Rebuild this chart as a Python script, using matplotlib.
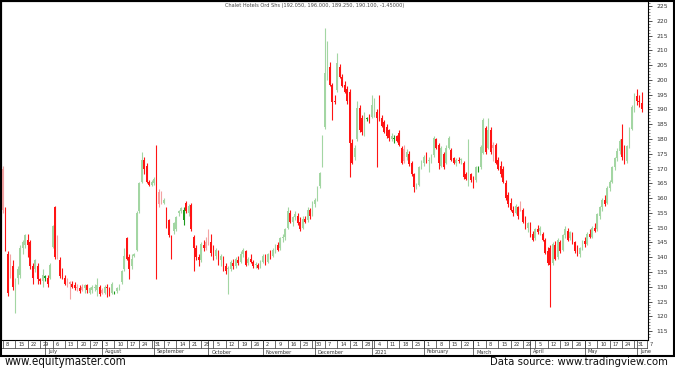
import matplotlib
matplotlib.use("Agg")
import matplotlib.pyplot as plt
from matplotlib import font_manager
import numpy as np
import pandas as pd
from matplotlib.patches import Rectangle

# daily OHLC (Chalet Hotels, Jun 2020 - Jun 2021)
opens = [
    170, 156, 141, 140, 137, 131, 133, 134, 143, 144,
    146, 145, 137, 136, 137, 132.5, 132, 133, 133, 133,
    143.6, 157, 147, 139, 136, 133, 132, 131.5, 131, 130.5,
    130, 129.5,
    130, 129.5, 130.5, 128, 129, 129.5, 129, 130, 129, 128,
    130, 129.5, 128, 128, 128.5, 129.5, 131.5, 136, 146.5, 140, 137,
    140.5, 142.6, 155.5, 165.5, 173, 171, 165.5, 164.5, 165, 176.5,
    162, 162, 158.5, 156.5, 152.5, 147, 149, 149.5, 155, 155.5,
    152.5, 158.5, 155, 157.8, 147, 143, 140, 139, 144,
    145, 147, 145, 142, 140.5, 142, 139, 140,
    137, 136, 136, 138, 137, 139, 138.5, 141, 142, 138,
    139.5, 138.5, 137.5, 137.5, 137, 138.5, 140, 138.5, 141, 140.5,
    142.5, 144, 143, 146.5, 147, 150, 155, 152, 153.5, 154,
    152, 150, 153, 152.5, 156, 154.5, 158, 159.5, 164, 171,
    184, 204.4, 204.4, 198.3, 193, 196.6, 204.4, 201, 198.3, 197,
    196, 178.7, 174, 180, 190.5, 187, 183, 186.8, 187.2, 187.5,
    188, 189, 190, 187, 185.8, 184, 183, 180, 180, 181,
    182, 177, 176.5, 174, 175, 172, 168, 164, 164.5, 171,
    172, 175, 172.5, 173, 174.7, 180, 178, 171, 175, 172,
    177, 176.4, 173.5, 172, 173, 172.8, 172, 168, 167, 168,
    167, 166, 170, 170.6, 175.4, 183.8, 177, 183, 178, 178,
    173, 171, 170, 165.2, 161, 158.5, 156, 155, 157, 158,
    156, 152.5, 150, 151.5, 148, 146.5, 149.5, 149, 148, 146,
    142, 143, 138, 144, 140, 145, 142.5, 147.5, 149, 146.5,
    148, 145, 143, 141, 143, 145.5, 144.5, 148, 147, 150,
    149.5, 154, 157, 159.5, 158.5, 163.5, 165.5, 170.5, 173.5, 176,
    180, 177, 172.5, 177.5, 183.5, 190, 194.5, 193, 192.05,
]
highs = [
    171, 157, 142, 141, 139, 133, 137, 144, 146, 148,
    148, 146, 138, 139.5, 138, 133, 136, 134, 134, 138,
    151, 157.5, 147.5, 140, 136.5, 134, 133, 132, 132, 131.5,
    131, 130.5,
    131, 131, 131, 130, 130.5, 131, 133, 130.5, 129.5, 130.5,
    131, 130, 131.5, 128.5, 130, 131, 135.8, 143, 147, 141, 141,
    141.5, 155.5, 165.5, 175.5, 174, 172, 166, 166, 167, 178,
    163, 162.5, 160, 157, 153, 147.5, 152, 154, 156, 157,
    157, 159, 158, 158.5, 147.5, 144, 141, 145, 146,
    147, 149.5, 148, 144, 143, 142.5, 141, 140.5,
    138, 137, 139, 139.5, 140, 140.5, 142, 143, 142.5, 140,
    141, 139, 138.5, 138, 139, 141, 141, 141.5, 142.5, 143,
    144.5, 145, 147, 148, 150, 157, 156, 154, 155.5, 155,
    153.5, 154, 154, 157, 156.5, 159, 160, 164, 169, 181.5,
    217.6, 213, 206, 199, 195, 209, 205.5, 202, 199.5, 198,
    197, 180, 178, 193, 191.5, 188, 189, 187.5, 188.5, 195,
    194, 190, 195, 188, 186.5, 185, 183.5, 182, 181.5, 181.5,
    183, 177.5, 178, 176.5, 176, 172.5, 168.5, 165, 171, 173,
    174.5, 175.5, 174, 175, 181, 180.5, 178.5, 177.5, 175.5, 178,
    181, 177, 174, 173.5, 174, 173.5, 172.5, 169, 180, 168.5,
    167.5, 171, 171, 178, 187.2, 184.5, 187, 184, 179, 178.5,
    174, 172.5, 171, 166, 162, 160, 157.5, 158, 157.5, 159,
    156.5, 154, 152, 152, 149, 150, 151, 150.5, 148.5, 146.5,
    143.5, 144, 145, 145.5, 146.5, 146, 148, 150.5, 150, 149,
    148.5, 145.5, 144, 143.5, 146, 147, 148.5, 149.5, 150.5, 151.5,
    155, 157.5, 160, 161, 164, 166, 171, 174, 177, 180,
    185, 178, 178, 184, 191.5, 195.5, 197, 195, 196,
]
lows = [
    155, 142, 127, 133, 129, 121, 131, 133, 141, 143,
    140, 136, 131, 135, 131, 131, 130, 132, 130, 132.5,
    143, 139.5, 139.5, 133, 132.5, 130.5, 130, 126, 129.5, 129,
    128.5, 128,
    128.5, 128, 128, 127.5, 128, 128.5, 127, 127, 127.5, 127.5,
    126.5, 127, 127.5, 127.5, 128, 129, 131, 135.5, 139, 132.5, 136,
    140, 142, 155, 165, 168, 165, 164, 164, 164.5, 132.5,
    157, 158, 158, 150, 147, 139.5, 148, 149, 154, 155,
    151, 155, 154, 149, 135.5, 139, 137, 138.5, 142,
    142.5, 144, 140.5, 139, 139.5, 137.5, 137, 135.5,
    134.5, 127.5, 135.5, 136, 136.5, 137.5, 138, 140, 137, 137.5,
    138, 136.5, 136.5, 136, 136.5, 138, 137.5, 138, 139.5, 140,
    141.5, 142, 142.5, 145, 146, 149.5, 151.5, 150.5, 152.5, 151,
    149, 149.5, 151.5, 152, 153, 154, 157, 159, 163.5, 170.5,
    183.5, 200, 198, 186.5, 192, 196, 200.5, 197.5, 195.5, 192,
    167, 171.5, 173, 179.5, 182.5, 181.5, 181, 186, 185.5, 187,
    187.5, 170.6, 186, 184, 182, 180.5, 179.5, 179.5, 178.5, 179,
    177.5, 171.5, 172, 173, 171, 167.5, 162, 163, 164, 170,
    171, 172, 169, 172, 174, 176.5, 170, 170.5, 170, 171.5,
    176.5, 172.5, 171.5, 171, 172, 171.5, 166.5, 166, 164, 165.5,
    163.5, 165.5, 169, 170, 175, 175, 176.5, 175, 172.5, 171.5,
    169.5, 167, 165, 159.5, 157, 155.5, 154, 154.5, 153, 155.5,
    151.5, 149.5, 148.5, 147, 145.5, 146, 148, 147.5, 145.5, 141,
    137.5, 123, 137.5, 139, 139.5, 141.5, 142, 146.5, 145.5, 146,
    144.5, 141.5, 140.5, 140, 142.5, 143.5, 144, 146.5, 146.5, 148.5,
    149, 153, 155.5, 157.5, 158, 162.5, 165, 169.5, 172.5, 175,
    173, 171.5, 172, 177, 183, 189, 191.5, 191, 189.25,
]
closes = [
    156, 145, 128, 135, 130, 132, 136, 143, 145, 147.5,
    144, 137, 133, 139, 132.5, 132, 134, 133.5, 130.8, 137.5,
    150.5, 140, 140, 133.5, 133, 131, 131, 131, 130, 129.5,
    129.5, 128.5,
    129, 130.5, 129, 129.5, 129.8, 130, 130.5, 127.5, 128, 130,
    129.5, 127.5, 131, 128.2, 129.5, 130.5, 135.5, 140.5, 139.5, 136, 139.5,
    141, 155, 165, 173, 170, 165.5, 164.5, 165.5, 166.5, 157,
    158, 158.5, 159.5, 151.5, 147.5, 142.5, 151.5, 153.5, 155.5, 156.8,
    156, 155.5, 157.5, 149.5, 143.2, 140, 139, 144.5, 143,
    143, 144.5, 141.5, 140, 142.5, 138, 140.5, 136,
    135.5, 136.5, 138.5, 137, 139.5, 138, 141, 142.5, 137.5, 139.5,
    138.5, 137, 137.5, 136.5, 138.5, 140.5, 138, 141, 140, 142.5,
    144, 142.5, 146.5, 147, 149.5, 155.5, 152, 153.5, 154.5, 151.5,
    149.5, 153, 152, 156, 154, 158, 159.5, 163.5, 168.5, 181,
    202.4, 209.5, 198.3, 192.6, 192.5, 205.7, 201, 198, 196, 193,
    178.7, 172, 177, 190.5, 183, 182.5, 187.5, 187.2, 186, 191.6,
    192, 187, 186.5, 184.5, 182.4, 181, 180.4, 181, 180.5, 179.5,
    178, 172, 172.5, 175.5, 171.5, 168, 163.8, 164.5, 170.6, 172,
    174, 172.5, 173, 174.5, 180.4, 177, 172, 177, 170.5, 177,
    180.4, 173, 172, 173, 172.5, 173.2, 167, 166.5, 169, 166,
    164, 170.6, 170.5, 177.4, 186.5, 175.7, 183, 175.7, 177, 172,
    170, 168, 165.5, 160, 158, 156, 155, 157.5, 154, 156,
    152, 150, 151.5, 147.5, 146, 149.5, 148.5, 150, 146, 141.5,
    138, 137.5, 144.5, 139.5, 146, 142, 147.5, 149.5, 146, 148.5,
    145, 142, 141, 143, 145.5, 144.5, 148, 147, 150, 149,
    154.5, 157, 159.5, 158, 163.5, 165.5, 170.5, 173.5, 176, 179.5,
    174, 172.5, 177.5, 183.5, 191, 194.5, 193, 192.5, 190.1,
]
month_names = ["July", "August", "September", "October", "November", "December",
               "2021", "February", "March", "April", "May", "June"]
title = "Chalet Hotels Ord Shs (192.050, 196.000, 189.250, 190.100, -1.45000)"

# trading calendar (axis extends to the Monday after the last bar)
axis_dates = pd.bdate_range("2020-06-08", "2021-06-07")


def narrow_font():
    # any installed narrow/condensed face, else Liberation Sans
    for f in font_manager.fontManager.ttflist:
        tag = (f.name + " " + str(f.stretch) + " " + f.fname).lower()
        if ("narrow" in tag or "condensed" in tag) and f.weight in (400, "normal") \
                and f.style == "normal":
            return font_manager.FontProperties(fname=f.fname)
    return font_manager.FontProperties(family="Liberation Sans")


o = np.array(opens); h = np.array(highs); l = np.array(lows); c = np.array(closes)
n = len(c)
x = np.arange(n)
prev = np.r_[c[0], c[:-1]]
up = c >= o
rising = c >= prev
colors = np.where(up & rising, "#a3d6a3",
         np.where(up, "#1c9a1c",
         np.where(~rising, "#ff1414", "#f3a3a3")))

W, H = 675, 371
fig = plt.figure(figsize=(W / 100, H / 100), dpi=100)
fig.patch.set_facecolor("white")

ax = fig.add_axes([1 / W, 1 - 340 / H, 647 / W, 339 / H])
ax.vlines(x, l, h, colors=colors, linewidth=0.8, zorder=2)
body = np.maximum(np.abs(c - o), 0.35)
ax.bar(x, body, bottom=np.minimum(o, c), width=0.68, color=colors,
       linewidth=0, zorder=3)

ax.set_xlim(-0.8, len(axis_dates) - 0.5)
ax.set_ylim(112.0, 226.7)
ax.set_xticks([])
ax.yaxis.tick_right()
ax.set_yticks(np.arange(115, 226, 5))
ax.set_yticks(np.arange(113, 227, 1), minor=True)
ax.tick_params(axis="y", which="major", length=3, width=0.6, labelsize=4.3,
               pad=3, colors="#333333")
ax.tick_params(axis="y", which="minor", length=1.5, width=0.5, colors="#555555")
for s in ax.spines.values():
    s.set_linewidth(0.8)
    s.set_color("black")

fig.text(315 / W, 1 - 6 / H, title, ha="center", va="center", fontsize=3.6,
         color="#444444")

# date strip: weekly ticks and month names
strip = fig.add_axes([1 / W, 1 - 356 / H, 647 / W, 16 / H], sharex=ax)
strip.set_ylim(0, 1)
strip.axis("off")
mondays = [i for i, d in enumerate(axis_dates) if d.weekday() == 0]
strip.vlines(mondays, 0.5, 1, colors="#333333", linewidth=0.5)
for i in mondays:
    strip.text(i + 1.2, 0.75, str(axis_dates[i].day), fontsize=3.6,
               va="center", ha="left", color="#333333")
month_starts = [i for i in range(1, len(axis_dates))
                if axis_dates[i].month != axis_dates[i - 1].month]
strip.vlines(month_starts, 0, 1, colors="#333333", linewidth=0.5)
strip.hlines(0.5, -0.8, len(axis_dates), colors="#333333", linewidth=0.5)
for i, name in zip(month_starts, month_names):
    strip.text(i + 1.2, 0.25, name, fontsize=3.6, va="center", ha="left",
               color="#333333")

# frame around chart block
fig.add_artist(Rectangle((0.5 / W, 1 - 356 / H), 673.5 / W, 355.5 / H,
                         transform=fig.transFigure, fill=False,
                         edgecolor="black", linewidth=1.5))

foot = narrow_font()
left_txt = fig.text(5 / W, 1 - 362 / H, "www.equitymaster.com", fontproperties=foot,
                    fontsize=10, va="center", ha="left", color="#111111")
right_txt = fig.text(668 / W, 1 - 362 / H, "Data source: www.tradingview.com",
                     fontproperties=foot, fontsize=10, va="center", ha="right",
                     color="#111111")
# scale footer to the widths seen in the original
renderer = fig.canvas.get_renderer()
for t, target in [(left_txt, 122), (right_txt, 180)]:
    w = t.get_window_extent(renderer).width
    t.set_fontsize(min(10.5, t.get_fontsize() * target / w))

fig.savefig("out.png", dpi=100)
